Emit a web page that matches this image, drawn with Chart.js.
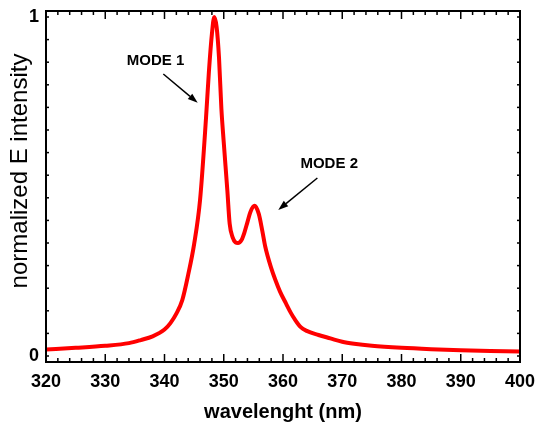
<!DOCTYPE html>
<html>
<head>
<meta charset="utf-8">
<script src="https://cdn.jsdelivr.net/npm/chart.js@4.4.0/dist/chart.umd.min.js"></script>
<style>
  body { margin: 0; background: #fff; }
  canvas { display: block; }
</style>
</head>
<body>
<canvas id="theChart" width="535" height="427"></canvas>
<script>
// wavelength (nm) and normalized intensity
const wavelength = [320, 325, 330, 334, 336, 338, 340, 341, 342, 343, 344, 345, 346, 347, 347.5,
  348, 348.4, 348.8, 349.2, 349.6, 350, 350.6, 351, 351.5, 352, 352.4, 353, 353.5, 354, 354.5,
  355.2, 355.9, 356.5, 357, 358, 358.7, 359.5, 360.5, 361.3, 362, 363, 364, 366, 368, 370,
  372, 375, 380, 385, 390, 395, 400];
const intensity = [0.019, 0.024, 0.030, 0.038, 0.047, 0.058, 0.078, 0.097, 0.125, 0.165, 0.24, 0.33, 0.46, 0.70, 0.84,
  0.95, 1.0, 0.97, 0.88, 0.73, 0.63, 0.49, 0.39, 0.35, 0.335, 0.333, 0.342, 0.365, 0.395, 0.425,
  0.443, 0.42, 0.37, 0.323, 0.26, 0.225, 0.19, 0.155, 0.128, 0.108, 0.085, 0.074, 0.062, 0.052, 0.042,
  0.036, 0.030, 0.024, 0.020, 0.017, 0.015, 0.013];

// axis ticks: labels only on major ones
const xTickValues = [];
for (let v = 320; v <= 400; v += 2) xTickValues.push(v);
const yTickValues = [];
for (let k = 0; k <= 15; k++) yTickValues.push(k / 15);

const yTitle = "normalized E intensity";

// annotations (data coords)
const noteText = ["MODE 1", "MODE 2"];
const noteX = [338.5, 367.8];
const noteY = [0.87, 0.567];
const arrowFromX = [339.8, 365.8];
const arrowFromY = [0.832, 0.525];
const arrowToX = [345.6, 359.2];
const arrowToY = [0.747, 0.431];

const FONT = "'Liberation Sans', Arial, sans-serif";
const points = wavelength.map((w, i) => ({ x: w, y: intensity[i] }));

function line(ctx, x1, y1, x2, y2) {
  ctx.beginPath();
  ctx.moveTo(x1, y1);
  ctx.lineTo(x2, y2);
  ctx.stroke();
}

function noPadding(scale) {
  scale.paddingTop = 0;
  scale.paddingBottom = 0;
  scale.paddingLeft = 0;
  scale.paddingRight = 0;
}

// frame + inward tick marks
const framePlugin = {
  id: "frame",
  afterDatasetsDraw(chart) {
    const { ctx, chartArea: a, scales: { x, y } } = chart;
    ctx.save();
    ctx.strokeStyle = "#000";
    ctx.lineWidth = 1.5;
    x.ticks.forEach((t) => {
      const px = x.getPixelForValue(t.value);
      const len = t.value % 10 === 0 ? 8 : 4;
      line(ctx, px, a.bottom, px, a.bottom - len);
      line(ctx, px, a.top, px, a.top + len);
    });
    y.ticks.forEach((t) => {
      const py = y.getPixelForValue(t.value);
      line(ctx, a.left, py, a.left + 3, py);
      line(ctx, a.right, py, a.right - 3, py);
    });
    ctx.lineWidth = 2;
    ctx.strokeRect(a.left, a.top, a.right - a.left, a.bottom - a.top);
    ctx.restore();
  },
};

// MODE labels with arrows, and the y title
const notePlugin = {
  id: "notes",
  afterDraw(chart) {
    const { ctx, scales: { x, y } } = chart;
    ctx.save();
    ctx.fillStyle = "#000";
    ctx.strokeStyle = "#000";
    ctx.font = "bold 15px " + FONT;
    ctx.textAlign = "center";
    ctx.textBaseline = "middle";
    noteText.forEach((txt, i) => {
      ctx.fillText(txt, x.getPixelForValue(noteX[i]), y.getPixelForValue(noteY[i]));
      const x1 = x.getPixelForValue(arrowFromX[i]);
      const y1 = y.getPixelForValue(arrowFromY[i]);
      const x2 = x.getPixelForValue(arrowToX[i]);
      const y2 = y.getPixelForValue(arrowToY[i]);
      const ang = Math.atan2(y2 - y1, x2 - x1);
      const hl = 10, hw = 3.5;
      const bx = x2 - hl * Math.cos(ang);
      const by = y2 - hl * Math.sin(ang);
      ctx.lineWidth = 1.5;
      line(ctx, x1, y1, bx, by);
      ctx.beginPath();
      ctx.moveTo(x2, y2);
      ctx.lineTo(bx + hw * Math.sin(ang), by - hw * Math.cos(ang));
      ctx.lineTo(bx - hw * Math.sin(ang), by + hw * Math.cos(ang));
      ctx.closePath();
      ctx.fill();
    });
    // y axis title sits a bit above the plot centre in the original
    ctx.translate(20, 171);
    ctx.rotate(-Math.PI / 2);
    ctx.font = "24px " + FONT;
    ctx.fillText(yTitle, 0, 0);
    ctx.restore();
  },
};

const config = {
  type: "line",
  data: {
    datasets: [
      {
        label: yTitle,
        data: points,
        borderColor: "#ff0000",
        borderWidth: 4,
        pointRadius: 0,
        fill: false,
        cubicInterpolationMode: "monotone",
      },
    ],
  },
  options: {
    responsive: false,
    animation: false,
    devicePixelRatio: 1,
    layout: { padding: { top: 11, right: 15, left: 0, bottom: 0 } },
    plugins: {
      legend: { display: false },
      tooltip: { enabled: false },
    },
    scales: {
      x: {
        type: "linear",
        min: 320,
        max: 400,
        afterBuildTicks: (scale) => {
          scale.ticks = xTickValues.map((v) => ({ value: v }));
        },
        afterFit: (scale) => {
          scale.height = 65;
          noPadding(scale);
        },
        grid: { display: false, drawTicks: false, tickLength: 0 },
        border: { display: false },
        ticks: {
          autoSkip: false,
          maxRotation: 0,
          padding: 9,
          color: "#000",
          font: { family: FONT, size: 18, weight: "bold" },
          callback: (v) => (v % 10 === 0 ? String(v) : ""),
        },
        title: {
          display: true,
          text: "wavelenght (nm)",
          color: "#000",
          padding: { top: 0, bottom: 3 },
          font: { family: FONT, size: 20, weight: "bold" },
        },
      },
      y: {
        type: "linear",
        min: -0.0177,
        max: 1.0177,
        afterBuildTicks: (scale) => {
          scale.ticks = yTickValues.map((v) => ({ value: v }));
        },
        afterFit: (scale) => {
          scale.width = 46;
          noPadding(scale);
        },
        grid: { display: false, drawTicks: false, tickLength: 0 },
        border: { display: false },
        ticks: {
          autoSkip: false,
          padding: 7,
          color: "#000",
          font: { family: FONT, size: 18, weight: "bold" },
          callback: (v) => (Math.abs(v) < 1e-9 ? "0" : Math.abs(v - 1) < 1e-9 ? "1" : ""),
        },
      },
    },
  },
  plugins: [framePlugin, notePlugin],
};

const theChart = new Chart(document.getElementById("theChart"), config);
</script>
</body>
</html>
